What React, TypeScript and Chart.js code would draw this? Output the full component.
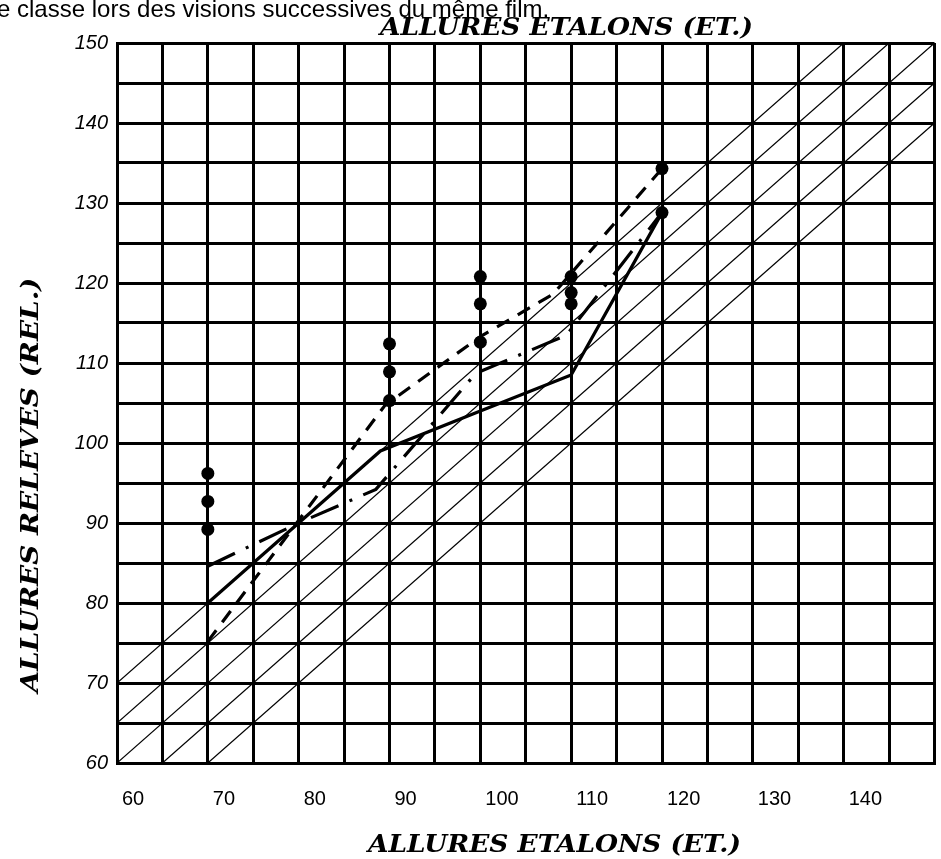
import React, { useEffect, useRef } from 'react';
import { Chart, registerables } from 'chart.js';

Chart.register(...registerables);

// ---- axis ranges & tick labels ----
const X_MIN = 60;
const X_MAX = 150;
const Y_MIN = 60;
const Y_MAX = 150;
const xTickLabels = [60, 70, 80, 90, 100, 110, 120, 130, 140];
const yTickLabels = [60, 70, 80, 90, 100, 110, 120, 130, 140, 150];

// ---- reference diagonals y = x + c ----
const diagonalOffsets = [10, 5, 0, -5, -10];

// ---- observed dots ----
const dotX = [70, 70, 70, 90, 90, 90, 100, 100, 100, 110, 110, 110, 120, 120];
const dotY = [96.2, 92.7, 89.2, 112.4, 108.9, 105.3, 120.8, 117.4, 112.6, 120.8, 118.8, 117.4, 134.3, 128.8];

// ---- series ----
const solidX = [70, 89, 100, 110, 120];
const solidY = [80, 99, 104, 108.5, 128.8];

const dashedX = [70, 89.5, 100, 108, 120];
const dashedY = [75.2, 104.7, 113.3, 118.6, 134.3];

const dashDotX = [70, 80, 88.5, 99.5, 109.5, 120];
const dashDotY = [84.6, 90, 94.2, 108.7, 113.5, 128.8];

// ---- texts ----
const captionText = 'e classe lors des visions successives du même film.';
const xTitle = 'ALLURES ETALONS (ET.)';
const yTitle = 'ALLURES RELEVES (REL.)';

const pts = (xs: number[], ys: number[]) => xs.map((x, i) => ({ x, y: ys[i] }));

const diagonalData = (c: number) => {
  const x0 = Math.max(X_MIN, Y_MIN - c);
  const x1 = Math.min(X_MAX, Y_MAX - c);
  return [
    { x: x0, y: x0 + c },
    { x: x1, y: x1 + c },
  ];
};

const titleFont = 'italic bold 24px "DejaVu Serif"';

function fitText(ctx: CanvasRenderingContext2D, text: string, width: number) {
  const w = ctx.measureText(text).width;
  return width / w;
}

const textPlugin = {
  id: 'texts',
  afterDraw(chart: any) {
    const ctx: CanvasRenderingContext2D = chart.ctx;
    ctx.save();
    ctx.fillStyle = '#000';
    ctx.textBaseline = 'alphabetic';

    // caption (cut at top)
    ctx.font = '24px "Liberation Sans"';
    ctx.textAlign = 'left';
    ctx.fillText(captionText, -3, 17);

    // top title
    ctx.font = titleFont;
    let s = fitText(ctx, xTitle, 373);
    ctx.save();
    ctx.translate(380, 35);
    ctx.scale(s, 1);
    ctx.fillText(xTitle, 0, 0);
    ctx.restore();

    // bottom title
    ctx.save();
    ctx.translate(368, 852);
    ctx.scale(s, 1);
    ctx.fillText(xTitle, 0, 0);
    ctx.restore();

    // y title
    ctx.font = 'italic bold 25px "DejaVu Serif"';
    s = fitText(ctx, yTitle, 415);
    ctx.save();
    ctx.translate(38, 485);
    ctx.rotate(-Math.PI / 2);
    ctx.scale(s, 1);
    ctx.textAlign = 'center';
    ctx.fillText(yTitle, 0, 0);
    ctx.restore();

    ctx.restore();
  },
};

export default function App() {
  const ref = useRef<HTMLCanvasElement | null>(null);

  useEffect(() => {
    if (!ref.current) return;
    const datasets: any[] = [
      {
        type: 'scatter',
        data: pts(dotX, dotY),
        pointRadius: 6.5,
        pointBackgroundColor: '#000',
        pointBorderWidth: 0,
        showLine: false,
      },
      {
        type: 'line',
        data: pts(solidX, solidY),
        borderColor: '#000',
        borderWidth: 3.2,
        pointRadius: 0,
        tension: 0,
        fill: false,
      },
      {
        type: 'line',
        data: pts(dashedX, dashedY),
        borderColor: '#000',
        borderWidth: 3.2,
        borderDash: [14, 10],
        pointRadius: 0,
        tension: 0,
        fill: false,
      },
      {
        type: 'line',
        data: pts(dashDotX, dashDotY),
        borderColor: '#000',
        borderWidth: 3.2,
        borderDash: [30, 12, 3, 12],
        pointRadius: 0,
        tension: 0,
        fill: false,
      },
      ...diagonalOffsets.map((c) => ({
        type: 'line',
        data: diagonalData(c),
        borderColor: '#000',
        borderWidth: 1.2,
        pointRadius: 0,
        tension: 0,
        fill: false,
      })),
    ];

    const chart = new Chart(ref.current, {
      type: 'scatter',
      data: { datasets },
      options: {
        animation: false,
        responsive: false,
        events: [],
        layout: { padding: { top: 43, right: 3, bottom: 0, left: 0 } },
        plugins: {
          legend: { display: false },
          tooltip: { enabled: false },
          title: { display: false },
        },
        scales: {
          x: {
            type: 'linear',
            min: X_MIN,
            max: X_MAX,
            afterFit: (sc: any) => {
              sc.height = 96;
              sc.paddingLeft = 0;
              sc.paddingRight = 0;
            },
            ticks: {
              stepSize: 5,
              autoSkip: false,
              maxRotation: 0,
              align: 'start',
              labelOffset: 5,
              padding: 24,
              color: '#000',
              font: { family: '"Liberation Sans"', size: 20 },
              callback: (v: any) => (xTickLabels.includes(Number(v)) ? String(v) : ''),
            },
            grid: { color: '#000', lineWidth: 3, drawTicks: false },
            border: { color: '#000', width: 3 },
          },
          y: {
            type: 'linear',
            min: Y_MIN,
            max: Y_MAX,
            afterFit: (sc: any) => {
              sc.width = 117;
              sc.paddingTop = 0;
              sc.paddingBottom = 0;
            },
            ticks: {
              stepSize: 5,
              autoSkip: false,
              padding: 9,
              color: '#000',
              font: { family: '"Liberation Sans"', size: 20, style: 'italic' },
              callback: (v: any) => (yTickLabels.includes(Number(v)) ? String(v) : ''),
            },
            grid: { color: '#000', lineWidth: 3, drawTicks: false },
            border: { color: '#000', width: 3 },
          },
        },
      } as any,
      plugins: [textPlugin],
    });
    return () => chart.destroy();
  }, []);

  return (
    <div style={{ position: 'fixed', left: 0, top: 0, width: 941, height: 859, background: '#fff' }}>
      <canvas ref={ref} width={941} height={859} style={{ width: 941, height: 859, display: 'block' }} />
    </div>
  );
}
